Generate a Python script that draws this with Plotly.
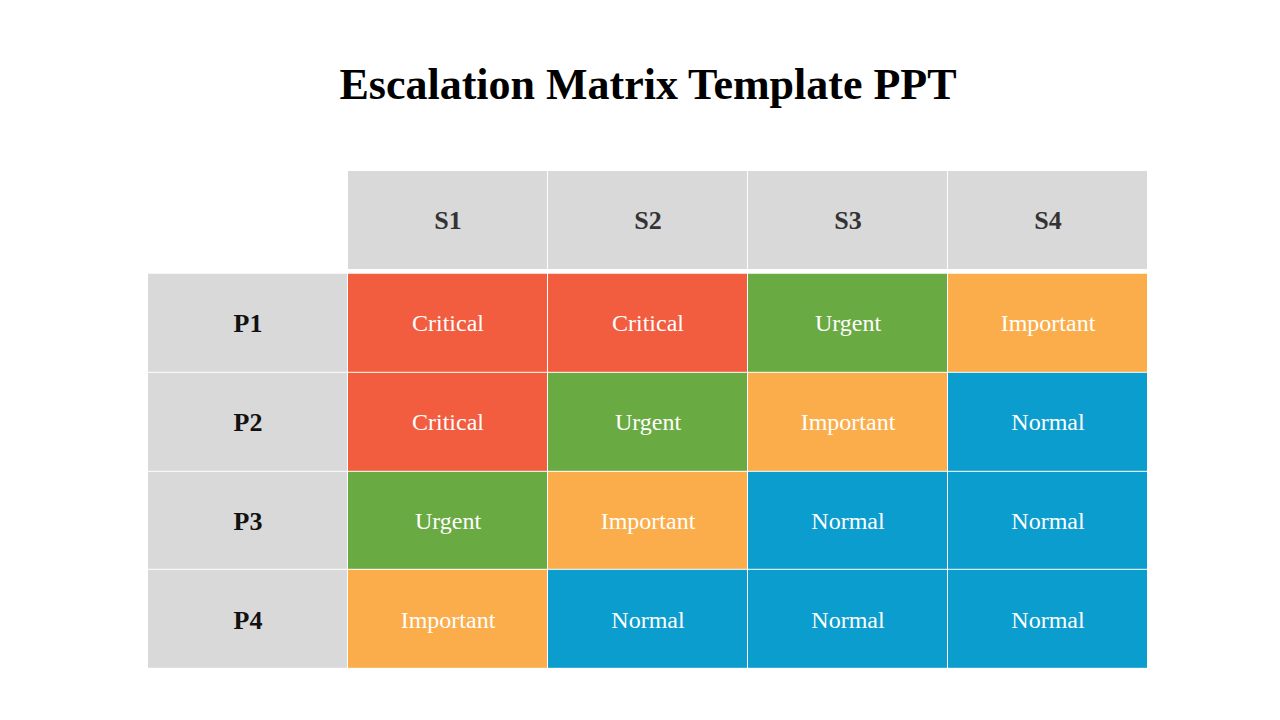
import plotly.graph_objects as go

title = "Escalation Matrix Template PPT"
severities = ["S1", "S2", "S3", "S4"]
priorities = ["P1", "P2", "P3", "P4"]
levels = [
    ["Critical", "Critical", "Urgent", "Important"],
    ["Critical", "Urgent", "Important", "Normal"],
    ["Urgent", "Important", "Normal", "Normal"],
    ["Important", "Normal", "Normal", "Normal"],
]
level_code = {"Critical": 1, "Urgent": 2, "Important": 3, "Normal": 4}
colors = ["#D9D9D9", "#F25C3F", "#6AAA43", "#FBAD4B", "#0A9DCD"]

cs = []
for i, c in enumerate(colors):
    cs += [[i / 5, c], [(i + 1) / 5, c]]

serif = "Liberation Serif"
common = dict(colorscale=cs, zmin=-0.5, zmax=4.5, showscale=False,
              xgap=1, ygap=1, hoverinfo="skip")

fig = go.Figure()
# header row
fig.add_trace(go.Heatmap(x=[1, 2, 3, 4], y=[-1.04], z=[[0] * 4], text=[severities],
                         texttemplate="%{text}",
                         textfont=dict(family=serif, size=26, color="#333333", weight="bold"),
                         **common))
# label column
fig.add_trace(go.Heatmap(x=[0], y=[0, 1, 2, 3], z=[[0]] * 4, text=[[p] for p in priorities],
                         texttemplate="%{text}",
                         textfont=dict(family=serif, size=26, color="#111111", weight="bold"),
                         **common))
# body
fig.add_trace(go.Heatmap(x=[1, 2, 3, 4], y=[0, 1, 2, 3],
                         z=[[level_code[v] for v in row] for row in levels],
                         text=levels, texttemplate="%{text}",
                         textfont=dict(family=serif, size=24, color="white"),
                         **common))

fig.update_layout(
    width=1280, height=720, plot_bgcolor="white", paper_bgcolor="white",
    margin=dict(l=140, r=140, t=163, b=59),
    title=dict(text="<b>" + title + "</b>", x=0.5, xanchor="center", y=0.895, yanchor="middle",
               font=dict(family=serif, size=44, color="#000000")),
    xaxis=dict(range=[-0.5, 4.5], visible=False, fixedrange=True),
    yaxis=dict(range=[3.5, -1.54], visible=False, fixedrange=True),
)
fig.write_html("out.html")
